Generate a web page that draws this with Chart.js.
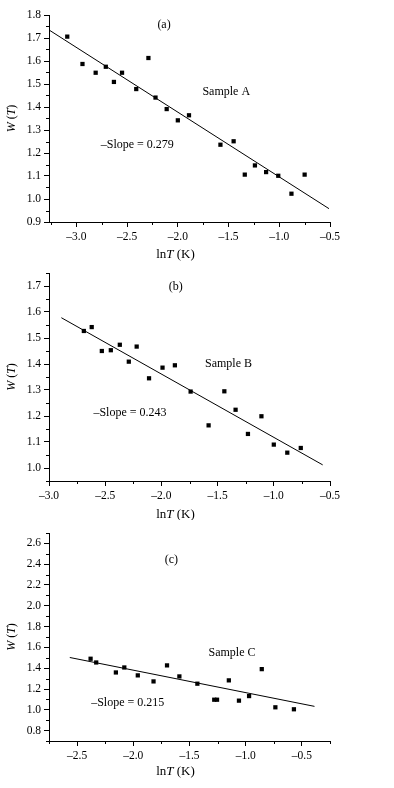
<!DOCTYPE html>
<html>
<head>
<meta charset="utf-8">
<script src="https://cdn.jsdelivr.net/npm/chart.js@4.4.0/dist/chart.umd.min.js"></script>
<style>
  body { margin: 0; background: #fff; }
  .panel { position: absolute; left: 0; }
</style>
</head>
<body>
<div class="panel" style="top:0px"><canvas id="chartA" width="394" height="262"></canvas></div>
<div class="panel" style="top:258px"><canvas id="chartB" width="394" height="262"></canvas></div>
<div class="panel" style="top:518px"><canvas id="chartC" width="394" height="270"></canvas></div>
<script>
// sample A
const lnTA = [-3.09, -2.94, -2.81, -2.71, -2.63, -2.55, -2.41, -2.29, -2.22, -2.11,
              -2.00, -1.89, -1.58, -1.45, -1.34, -1.24, -1.13, -1.01, -0.88, -0.75];
const wA   = [1.706, 1.587, 1.549, 1.575, 1.509, 1.549, 1.478, 1.613, 1.441, 1.391,
              1.342, 1.364, 1.236, 1.251, 1.106, 1.146, 1.117, 1.101, 1.023, 1.106];
const fitXA = [-3.27, -0.51];
const fitYA = [1.735, 0.958];

// sample B
const lnTB = [-2.69, -2.62, -2.53, -2.45, -2.37, -2.29, -2.22, -2.11, -1.99, -1.88,
              -1.74, -1.58, -1.44, -1.34, -1.23, -1.11, -1.00, -0.88, -0.76];
const wB   = [1.527, 1.542, 1.450, 1.453, 1.474, 1.409, 1.467, 1.345, 1.386, 1.395,
              1.294, 1.164, 1.295, 1.224, 1.131, 1.199, 1.090, 1.059, 1.077];
const fitXB = [-2.89, -0.565];
const fitYB = [1.578, 1.012];

// sample C
const lnTC = [-2.38, -2.33, -2.155, -2.08, -1.96, -1.82, -1.70, -1.59, -1.43, -1.28,
              -1.255, -1.15, -1.06, -0.97, -0.857, -0.736, -0.571];
const wC   = [1.491, 1.455, 1.359, 1.407, 1.331, 1.273, 1.427, 1.321, 1.251, 1.097,
              1.097, 1.283, 1.088, 1.132, 1.391, 1.024, 1.005];
const fitXC = [-2.565, -0.388];
const fitYC = [1.503, 1.033];

// tick labels
const xTicksA = [-3.0, -2.5, -2.0, -1.5, -1.0, -0.5];
const yTicksA = [0.9, 1.0, 1.1, 1.2, 1.3, 1.4, 1.5, 1.6, 1.7, 1.8];
const xTicksB = [-3.0, -2.5, -2.0, -1.5, -1.0, -0.5];
const yTicksB = [1.0, 1.1, 1.2, 1.3, 1.4, 1.5, 1.6, 1.7];
const xTicksC = [-2.5, -2.0, -1.5, -1.0, -0.5];
const yTicksC = [0.8, 1.0, 1.2, 1.4, 1.6, 1.8, 2.0, 2.2, 2.4, 2.6];

const FONT = '"Liberation Serif", "Times New Roman", serif';

function minorsOf(major, lo, hi) {
  const step = major[1] - major[0];
  const out = [];
  for (let v = major[0] - step / 2; v <= hi + 1e-9; v += step) {
    if (v >= lo - 1e-9) out.push(v);
  }
  return out;
}

function fmt(v) {
  return v.toFixed(1).replace('-', '\u2013');
}

// draw a string made of [text, italic] pieces centred on (0,0)
function richText(ctx, parts, size) {
  const fonts = parts.map(p => (p[1] ? 'italic ' : '') + size + 'px ' + FONT);
  let total = 0;
  const widths = parts.map((p, i) => { ctx.font = fonts[i]; const w = ctx.measureText(p[0]).width; total += w; return w; });
  let x = -total / 2;
  ctx.textAlign = 'left';
  ctx.textBaseline = 'middle';
  parts.forEach((p, i) => { ctx.font = fonts[i]; ctx.fillText(p[0], x, 0); x += widths[i]; });
}

const extras = {
  id: 'extras',
  afterDraw(chart, args, o) {
    const { ctx, chartArea } = chart;
    const x = chart.scales.x, y = chart.scales.y;
    ctx.save();
    ctx.strokeStyle = '#000';
    ctx.lineWidth = 1;
    o.minorX.forEach(v => {
      const px = Math.round(x.getPixelForValue(v)) + 0.5;
      ctx.beginPath(); ctx.moveTo(px, chartArea.bottom); ctx.lineTo(px, chartArea.bottom + 3); ctx.stroke();
    });
    o.minorY.forEach(v => {
      const py = Math.round(y.getPixelForValue(v)) + 0.5;
      ctx.beginPath(); ctx.moveTo(chartArea.left, py); ctx.lineTo(chartArea.left - 3, py); ctx.stroke();
    });
    ctx.fillStyle = '#000';
    ctx.font = '12px ' + FONT;
    ctx.textAlign = 'center';
    ctx.textBaseline = 'middle';
    o.notes.forEach(n => ctx.fillText(n[0], x.getPixelForValue(n[1]), y.getPixelForValue(n[2])));

    ctx.save();
    ctx.translate((chartArea.left + chartArea.right) / 2 - 14, chartArea.bottom + o.titleGap);
    richText(ctx, [['ln', false], ['T', true], [' (K)', false]], 13);
    ctx.restore();

    ctx.save();
    ctx.translate(12, (chartArea.top + chartArea.bottom) / 2);
    ctx.rotate(-Math.PI / 2);
    richText(ctx, [['W', true], [' (', false], ['T', true], [')', false]], 12);
    ctx.restore();
    ctx.restore();
  }
};

function makeChart(id, xs, ys, fx, fy, xr, yr, xt, yt, xAxisH, titleGap, notes) {
  const points = xs.map((v, i) => ({ x: v, y: ys[i] }));
  const fit = fx.map((v, i) => ({ x: v, y: fy[i] }));
  return new Chart(document.getElementById(id), {
    type: 'scatter',
    data: {
      datasets: [
        { data: points, pointStyle: 'rect', pointRadius: 3, pointHoverRadius: 3,
          backgroundColor: '#000', borderColor: '#000', borderWidth: 0 },
        { type: 'line', data: fit, borderColor: '#000', borderWidth: 1,
          pointRadius: 0, fill: false }
      ]
    },
    plugins: [extras],
    options: {
      responsive: false,
      animation: false,
      layout: { padding: { top: 15, right: 64, left: 0, bottom: 0 } },
      plugins: {
        legend: { display: false },
        tooltip: { enabled: false },
        extras: {
          minorX: minorsOf(xt, xr[0], xr[1]),
          minorY: minorsOf(yt, yr[0], yr[1]),
          notes: notes,
          titleGap: titleGap
        }
      },
      scales: {
        x: {
          type: 'linear', min: xr[0], max: xr[1],
          afterBuildTicks: s => { s.ticks = xt.map(v => ({ value: v })); },
          afterFit: s => { s.height = xAxisH; },
          border: { display: true, color: '#000', width: 1 },
          grid: { drawOnChartArea: false, drawTicks: true, tickLength: 5, color: '#000' },
          ticks: { color: '#000', padding: 3, font: { family: FONT, size: 11.5 },
                   maxRotation: 0, autoSkip: false, callback: v => fmt(v) }
        },
        y: {
          type: 'linear', min: yr[0], max: yr[1],
          afterBuildTicks: s => { s.ticks = yt.map(v => ({ value: v })); },
          afterFit: s => { s.width = 49; },
          border: { display: true, color: '#000', width: 1 },
          grid: { drawOnChartArea: false, drawTicks: true, tickLength: 5, color: '#000' },
          ticks: { color: '#000', padding: 3, font: { family: FONT, size: 11.5 },
                   autoSkip: false, callback: v => fmt(v) }
        }
      }
    }
  });
}

makeChart('chartA', lnTA, wA, fitXA, fitYA, [-3.27, -0.5], [0.9, 1.8], xTicksA, yTicksA, 40, 33,
  [['(a)', -2.136, 1.757], ['Sample A', -1.523, 1.465], ['\u2013Slope = 0.279', -2.40, 1.235]]);
makeChart('chartB', lnTB, wB, fitXB, fitYB, [-3.0, -0.5], [0.95, 1.75], xTicksB, yTicksB, 39, 34,
  [['(b)', -1.873, 1.695], ['Sample B', -1.403, 1.399], ['\u2013Slope = 0.243', -2.28, 1.214]]);
makeChart('chartC', lnTC, wC, fitXC, fitYC, [-2.75, -0.25], [0.7, 2.7], xTicksC, yTicksC, 47, 31,
  [['(c)', -1.662, 2.44], ['Sample C', -1.122, 1.548], ['\u2013Slope = 0.215', -2.05, 1.068]]);
</script>
</body>
</html>
